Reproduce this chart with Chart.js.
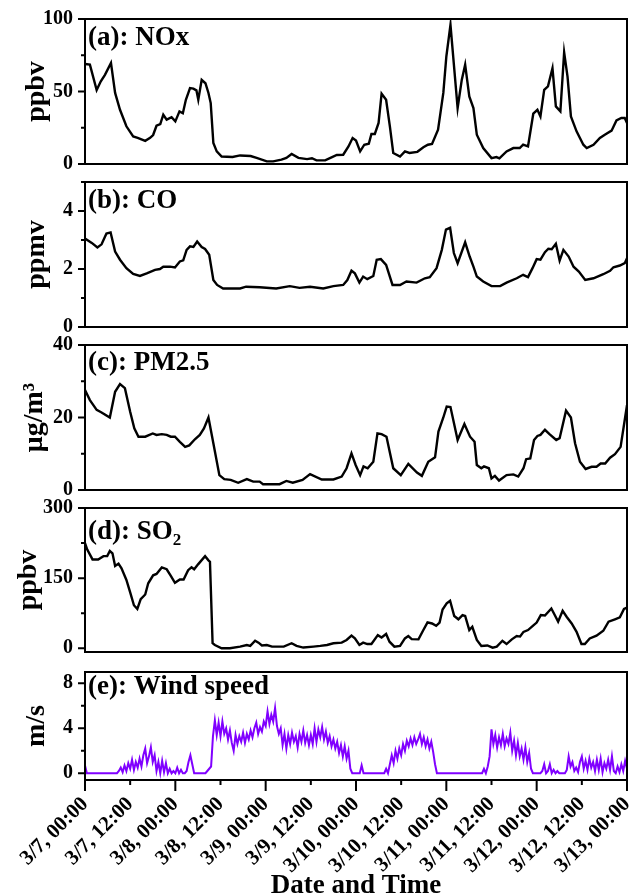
<!DOCTYPE html>
<html lang="en">
<head>
  <meta charset="UTF-8" />
  <title>Pollutants and wind speed, 3/7 - 3/13</title>
  <style>
    body { margin: 0; background: #fff; }
    #wrap { position: relative; width: 630px; height: 896px; overflow: hidden; }
    #wrap canvas { position: absolute; left: 0; }
  </style>
  <script src="https://cdn.jsdelivr.net/npm/chart.js"></script>
</head>
<body>
  <div id="wrap"></div>
  <script>
    // x axis: hours since 3/7 00:00
    const xTickHours = [0, 12, 24, 36, 48, 60, 72, 84, 96, 108, 120, 132, 144];
    const xTickLabels = ['3/7, 00:00', '3/7, 12:00', '3/8, 00:00', '3/8, 12:00', '3/9, 00:00',
      '3/9, 12:00', '3/10, 00:00', '3/10, 12:00', '3/11, 00:00', '3/11, 12:00',
      '3/12, 00:00', '3/12, 12:00', '3/13, 00:00'];

    // (a) NOx, ppbv
    const noxHours = [0,1.3,3.1,4.2,5.3,6.9,8,9.3,11,12.8, 14,16,17.3,18.1,19,20,20.8,21.7,23,24,
      25.1,26,26.8,27.9,28.8,29.6,30.1,31,32,32.8, 33.4,34.1,35,36.3,39.2,41.2,44,45.6,48.3,50,
      52.2,53.5,54.9,56.7,59,60.3,61.5,63.8,65.5,66.9, 68.6,70,71.1,72,73.1,74.2,75.4,76.1,77,78,
      78.8,80,81,81.9,83.7,85,86.2,88.3,89.9,91.1, 92.2,93.8,95.2,96,97.1,99,100.1,101,102.1,103.2,
      104.1,105.8,108,109.3,110.1,112,113.8,115.5,116.4,117.7, 119.1,120.2,121,122,123,124.2,125.1,126.3,127.3,128.2,
      129.1,130.6,132.4,133.3,135.1,136.8,138.1,139.9,141.2,142.5, 143.4,144];
    const noxValues = [69,68.5,51,57,61.5,69.7,49,37.4,26,19, 18,16,18,20,26.4,27.5,34,30.6,32.3,29.4,
      36.3,35,44.3,52.4,52,50.8,44.3,58,55.7,49, 42,14.5,8.7,5.2,4.8,5.9,5.5,4.2,1.8,1.8,
      3,4.2,6.9,4.2,3.4,4,2.5,2.5,4.6,6.2, 6.4,12.1,17.9,16.2,8.7,13.3,14,20.7,20.7,28.3,
      48.5,44.3,26,7.6,5.2,8.7,7.6,8.4,11.5,13.3, 13.8,23.7,49,74,96,38.6,58,68.5,46.6,38.6,
      20.2,11,4.1,4.8,3.9,8.7,11,11,13.3,12.1, 34.7,37.4,32.8,51.2,53.6,66,39.7,36.3,77,60.3,
      32.8,22.5,13.3,11,13.3,18,20.2,23,30,31.7, 31.7,28.3];

    // (b) CO, ppmv
    const coHours = [0,1.8,3.3,4.4,5.7,6.8,8,9.3,11,12.8, 14.6,16.4,18.6,19.9,20.8,22.6,23.9,25.2,26.1,27,
      27.9,28.8,29.8,31,31.9,33,34.1,35.1,36.7,41.2, 42.8,46.4,50.8,54.4,57,59.8,63.3,66,68.6,69.7,
      70.8,71.7,72.9,73.9,75,76.6,77.5,78.6,80,81.7, 83.7,85.4,88.1,90.3,91.6,93.4,94.8,95.9,97,98,
      99,101,102.2,103.2,104.1,105.8,108,110.3,112,114.7, 116.4,117.7,118.9,120,121,122.2,123.1,124,125.1,126.1,
      127.1,128.5,129.8,131.2,132.9,135.1,137.7,139.5,140.4,142.1, 143.4,144];
    const coValues = [3.05,2.9,2.74,2.85,3.22,3.26,2.6,2.32,2.03,1.83, 1.76,1.85,1.97,2.0,2.08,2.08,2.05,2.26,2.3,2.66,
      2.78,2.76,2.95,2.76,2.69,2.49,1.62,1.45,1.33,1.33, 1.39,1.37,1.33,1.41,1.35,1.39,1.33,1.41,1.45,1.62,
      1.94,1.85,1.53,1.74,1.65,1.76,2.32,2.34,2.14,1.45, 1.45,1.57,1.53,1.68,1.72,2.03,2.66,3.36,3.42,2.55,
      2.2,2.92,2.43,2.08,1.74,1.57,1.41,1.41,1.53,1.68, 1.8,1.72,2.03,2.34,2.32,2.58,2.7,2.68,2.87,2.29,
      2.66,2.43,2.08,1.91,1.62,1.68,1.82,1.94,2.06,2.12, 2.2,2.37];

    // (c) PM2.5, ug/m3
    const pmHours = [0,1.3,3.1,4.4,6.6,8,9.3,10.6,12,13.1, 14.2,16,18,19,20.4,21.7,22.8,23.9,25.2,26.6,
      27.7,29.2,30.5,31.6,32.8,34.1,35.7,37,38.7,40.7, 43,44.7,46.4,47.3,51.7,53.5,55.2,57.8,59.8,62.9,
      66,68.2,69.5,70.8,71.9,73.1,74,75.1,76.6,77.7, 78.8,80.1,81.9,83.9,85.9,88.2,89.5,91.2,93,93.9,
      95.2,96.1,97.1,99,100.8,102.3,103.5,104.1,105.3,106, 107.3,108,108.9,110,112,113.8,115.1,116.5,117.2,118.3,
      119.3,120.2,121,122.2,123.4,125.2,126.1,127.8,129.1,130.2, 131.5,133,134.6,135.9,137,138.2,139.5,140.8,142.3,143.5,
      144];
    const pmValues = [27.6,24.8,22.1,21.4,20,27.1,29.2,28.1,21.6,17, 14.7,14.7,15.6,15.2,15.4,15.2,14.7,14.7,13.3,11.9,
      12.3,14,15.2,17,20,12.9,4.1,3.0,2.8,2.0, 3.0,2.3,2.3,1.6,1.6,2.5,2.0,2.8,4.4,2.9,
      2.9,3.7,6,10.1,6.9,4.1,6.5,6,7.8,15.6, 15.4,14.7,6,4.1,7.2,4.8,3.9,7.8,9,16.1,
      20,23,22.9,13.8,18.2,14.7,13.3,6.9,6,6.5, 6,3.2,3.9,2.6,4.1,4.3,3.7,6,8.5,8.7,
      13.8,14.9,15.2,16.6,15.4,13.8,14.3,21.9,20,12.9, 7.8,5.8,6.4,6.4,7.3,7.3,8.9,9.9,11.9,20,
      23.4];

    // (d) SO2, ppbv
    const so2Hours = [0,0.6,2,3.5,4.9,5.9,6.6,7.3,8,8.9, 9.7,11,12.1,13,13.9,14.8,16,16.8,18.1,19,
      20.4,21.7,22.8,23.9,25.2,26.2,27.4,28.3,29,30.1, 31.9,32.8,33.2,33.9,34.5,36.3,38.5,41.2,43,43.9,
      45.2,46.1,47,48.3,49.7,52.8,54.9,56.2,58,60.7, 62.5,64.3,66,68.2,69.5,70.8,71.7,72.9,73.9,75,
      76.1,77.8,78.8,80,80.9,82.2,83.7,85,85.9,86.8, 88.6,89.9,91,92.2,93.3,94.2,95,96.1,97,98.1,
      99.2,100.3,101,102.1,102.9,104.1,105.3,106.9,108.3,109.4, 110.9,112,113.4,114.7,115.6,116.5,117.7,118.9,120,121.1,
      122.2,123.9,124.8,125.7,126.9,128,129.3,130.6,131.9,132.8, 134.1,135.9,137.7,139.1,140.8,142.1,143.2,144];
    const so2Values = [225,211,190,190,197,197,208,203,176,181, 171,146,117,92,84,105,115,139,156,159,
      173,169,155,140,147,147,167,173,169,180, 197,188,185,10.7,7,0,0,3.5,7,5,
      16,12,6,7,3.5,3.5,10.7,5,1.5,3.5, 5,7,10.7,12,17.7,27,21,7,12,9,
      9,28,23,30.5,14,3.5,5,21,26,19.6, 19,39,55.5,53,48,55,83,96,101.6,69,
      62,71,69,39,46,17.7,5,6,1.3,3.5, 16,9,19,26,25,35,39,47.5,55,71,
      70,85,71,57,80,67,53,35,9,9, 21,27,37.5,57,62,66,84,87];

    // (e) Wind speed, m/s, half-hourly from 3/7 00:00 (one row = 12 h)
    const windValues = [
      0.7,0,0,0,0,0,0,0,0,0,0,0,0,0,0,0,0,0,0.2,0.5,0.1,0.7,0.2,0.9,
      0.4,1.2,0.3,1.0,0.5,1.3,0.6,1.6,2.2,0.9,1.5,2.3,1.0,1.6,0.2,1.0,0,1.1,0.1,0.9,0,0.4,0,0.2,
      0,0.5,0,0.3,0,0,0.2,1.0,1.6,0.8,0,0,0,0,0,0,0,0.2,0.4,0.6,3.3,4.7,3.4,4.5,
      3.3,4.6,3.5,4.0,3.0,3.8,2.7,2.0,3.4,2.6,3.3,2.8,3.6,2.7,3.5,3.0,3.8,3.2,4.0,4.5,3.5,4.1,3.7,4.6,
      4.2,5.5,4.4,5.2,4.6,5.8,4.2,3.5,4.0,2.5,3.5,2.2,3.4,2.6,3.6,2.8,3.3,2.3,3.5,2.8,3.8,2.7,3.4,2.5,
      3.4,2.6,4.0,2.8,3.9,3.2,4.1,3.0,3.7,2.7,3.3,2.4,3.0,2.2,2.8,1.8,2.5,1.5,2.4,1.3,2.0,0.4,0,0,
      0,0,0,0.7,0,0,0,0,0,0,0,0,0,0,0,0,0.4,0,0.8,1.6,0.9,2.0,1.3,2.2,
      1.6,2.6,2.0,2.9,2.4,3.1,2.5,3.2,2.6,3.0,3.5,2.6,3.2,2.4,3.0,2.2,2.8,1.9,0.8,0,0,0,0,0,
      0,0,0,0,0,0,0,0,0,0,0,0,0,0,0,0,0,0,0,0,0.4,0,0.6,1.5,
      3.9,2.6,3.4,2.3,3.2,2.5,3.5,2.4,3.1,2.6,3.6,2.0,2.9,1.6,2.7,1.5,2.2,1.2,2.3,1.0,1.8,0.4,0,0,
      0,0,0,0.2,0.8,0,0.2,0.8,0,0.3,0,0.2,0,0,0,0,0.3,1.5,0.6,1.0,0.2,0.5,0.1,1.0,
      1.5,0.4,1.1,0.3,1.3,0.5,1.0,0.2,1.2,0.3,1.3,0.1,0.9,0.4,1.2,0.3,1.5,0.2,0,0.6,0.1,0.8,0.2,1.1,
      0.4];
    const windHours = windValues.map((v, i) => i * 0.5);

    const FONT = '"Liberation Serif", "Times New Roman", serif';

    const panels = [
      { title: '(a): NOx', unit: 'ppbv', hours: noxHours, values: noxValues, min: 0, max: 100,
        major: [0, 50, 100], minor: [25, 75], top: 19, bottom: 164, titleY: 26, unitPad: 20 },
      { title: '(b): CO', unit: 'ppmv', hours: coHours, values: coValues, min: 0, max: 5,
        major: [0, 2, 4], minor: [1, 3, 5], top: 182, bottom: 327, titleY: 26, unitPad: 20 },
      { title: '(c): PM2.5', unit: 'μg/m³', hours: pmHours, values: pmValues, min: 0, max: 40,
        major: [0, 20, 40], minor: [10, 30], top: 345, bottom: 490, titleY: 25, unitPad: 18 },
      { title: '(d): SO', sub: '2', unit: 'ppbv', hours: so2Hours, values: so2Values, min: -8, max: 300,
        major: [0, 150, 300], minor: [75, 225], top: 508, bottom: 652, titleY: 31, unitPad: 12 },
      { title: '(e): Wind speed', unit: 'm/s', hours: windHours, values: windValues, min: -0.6, max: 9,
        major: [0, 4, 8], minor: [2, 6], top: 672, bottom: 780, titleY: 22, unitPad: 20,
        color: '#8000ff', width: 2, last: true }
    ];

    // box, ticks and panel label
    function framePlugin(p) {
      return {
        id: 'frame',
        afterDraw(chart) {
          const { ctx, chartArea: a } = chart;
          const x = chart.scales.x, y = chart.scales.y;
          ctx.save();
          ctx.strokeStyle = '#000';
          ctx.lineWidth = 2;
          ctx.strokeRect(a.left, a.top, a.right - a.left, a.bottom - a.top);
          ctx.beginPath();
          p.major.forEach(v => { const py = y.getPixelForValue(v); ctx.moveTo(a.left - 7, py); ctx.lineTo(a.left, py); });
          p.minor.forEach(v => { const py = y.getPixelForValue(v); ctx.moveTo(a.left - 4, py); ctx.lineTo(a.left, py); });
          if (p.last) {
            xTickHours.forEach(h => {
              const px = x.getPixelForValue(h);
              ctx.moveTo(px, a.bottom);
              ctx.lineTo(px, a.bottom + (h % 24 === 0 ? 11 : 5));
            });
          }
          ctx.stroke();
          ctx.fillStyle = '#000';
          ctx.font = 'bold 27px ' + FONT;
          ctx.fillText(p.title, a.left + 3, a.top + p.titleY);
          if (p.sub) {
            const w = ctx.measureText(p.title).width;
            ctx.font = 'bold 17px ' + FONT;
            ctx.fillText(p.sub, a.left + 3 + w, a.top + p.titleY + 6);
          }
          ctx.restore();
        }
      };
    }

    const PAD = 16;
    const wrap = document.getElementById('wrap');

    panels.forEach(p => {
      const canvas = document.createElement('canvas');
      const top = p.top - PAD;
      const height = p.last ? 896 - top : p.bottom - p.top + 2 * PAD;
      canvas.width = 630;
      canvas.height = height;
      canvas.style.top = top + 'px';
      canvas.style.width = '630px';
      canvas.style.height = height + 'px';
      wrap.appendChild(canvas);

      new Chart(canvas, {
        type: 'line',
        data: {
          datasets: [{
            data: p.hours.map((h, i) => ({ x: h, y: p.values[i] })),
            borderColor: p.color || '#000',
            borderWidth: p.width || 2.4,
            pointRadius: 0,
            tension: 0,
            fill: false
          }]
        },
        options: {
          responsive: false,
          animation: false,
          layout: { padding: { top: PAD, bottom: p.last ? 0 : PAD, left: 0, right: 3 } },
          plugins: { legend: { display: false }, tooltip: { enabled: false } },
          scales: {
            x: {
              type: 'linear', min: 0, max: 144, display: !!p.last,
              grid: { display: false, drawTicks: false },
              border: { display: false },
              afterBuildTicks: s => { s.ticks = xTickHours.map(v => ({ value: v })); },
              ticks: {
                autoSkip: false, maxRotation: 45, minRotation: 45, padding: 12, color: '#000',
                font: { family: FONT, size: 21, weight: 'bold' },
                callback: (v, i) => xTickLabels[i]
              },
              title: {
                display: true, text: 'Date and Time', color: '#000',
                font: { family: FONT, size: 27, weight: 'bold', lineHeight: 0.75 },
                padding: { top: 0, bottom: 0 }
              },
              afterFit: s => {
                if (!p.last) return;
                s.height = 116; s.paddingLeft = 0; s.paddingRight = 0;
              }
            },
            y: {
              min: p.min, max: p.max,
              grid: { display: false, drawTicks: false },
              border: { display: false },
              afterBuildTicks: s => { s.ticks = p.major.map(v => ({ value: v })); },
              ticks: { padding: 12, color: '#000', font: { family: FONT, size: 20, weight: 'bold' } },
              title: {
                display: true, text: p.unit, color: '#000',
                font: { family: FONT, size: 28, weight: 'bold' },
                padding: { top: p.unitPad, bottom: 0 }
              },
              afterFit: s => { s.width = 85; s.paddingTop = 0; s.paddingBottom = 0; }
            }
          }
        },
        plugins: [framePlugin(p)]
      });
    });
  </script>
</body>
</html>
